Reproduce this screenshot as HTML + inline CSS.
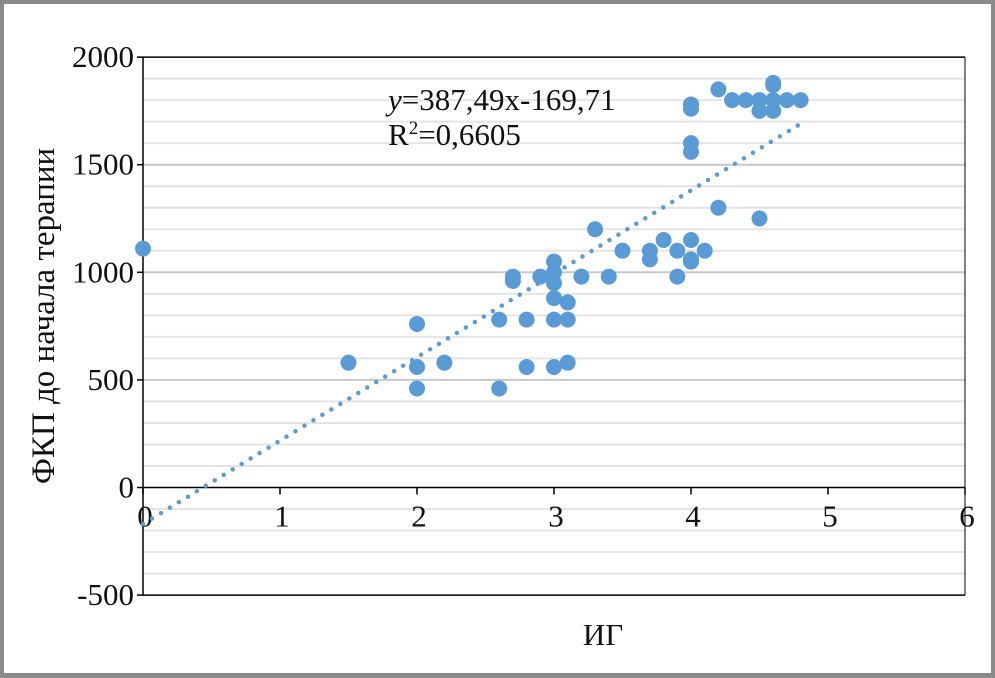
<!DOCTYPE html>
<html><head><meta charset="utf-8"><style>
body{margin:0;background:#fff}
#wrap{position:relative;width:995px;height:678px;box-sizing:border-box;border:4px solid #8a8a8a;border-bottom-width:5px;background:#fff}
svg{position:absolute;left:0;top:0}
text{font-family:"Liberation Serif",serif;fill:#111}
</style></head><body>
<div id="wrap"></div>
<svg id="chart" width="995" height="678"></svg>
<script>
const xs=[0,1.5,2,2,2,2.2,2.6,2.6,2.7,2.7,2.8,2.8,2.9,3,3,3,3,3,3,3.1,3.1,3.1,3.2,3.3,3.4,3.5,3.7,3.7,3.8,3.9,3.9,4,4,4,4,4,4,4,4.1,4.2,4.2,4.3,4.4,4.5,4.5,4.5,4.6,4.6,4.6,4.6,4.7,4.8];
const ys=[1110,580,760,560,460,580,780,460,980,960,780,560,980,1050,1000,950,880,780,560,860,780,580,980,1200,980,1100,1100,1060,1150,1100,980,1150,1060,1050,1780,1760,1600,1560,1100,1300,1850,1800,1800,1800,1750,1250,1750,1800,1870,1880,1800,1800];
const yTicks=[-500,0,500,1000,1500,2000];
const xTicks=[0,1,2,3,4,5,6];
const slope=387.49, intercept=-169.71, trendEnd=4.8;
const NS='http://www.w3.org/2000/svg';
const svg=document.getElementById('chart');
const X=v=>143+v*137, Y=v=>487.5-v*0.2152;
function mk(t,a){const e=document.createElementNS(NS,t);for(const k in a)e.setAttribute(k,a[k]);svg.appendChild(e);return e;}
for(let v=-400;v<2000;v+=100){if(v%500===0)continue;
const g=mk('line',{x1:143,x2:965,y1:Y(v),y2:Y(v),stroke:'#e4e4e4','stroke-width':2});

}
yTicks.forEach(v=>{
if(v!==0&&v!==2000&&v!==-500){const g=mk('line',{x1:143,x2:965,y1:Y(v),y2:Y(v),stroke:'#c8c8c8','stroke-width':2});

}
mk('line',{x1:137,x2:143,y1:Y(v),y2:Y(v),stroke:'#000','stroke-width':1.5});
const t=mk('text',{x:134,y:Y(v)+10,'text-anchor':'end','font-size':31});t.textContent=v;


});
mk('line',{x1:143,x2:965,y1:Y(2000),y2:Y(2000),stroke:'#000','stroke-width':1.5});
mk('line',{x1:143,x2:965,y1:Y(-500),y2:Y(-500),stroke:'#000','stroke-width':1.5});
mk('line',{x1:143,x2:965,y1:Y(0),y2:Y(0),stroke:'#000','stroke-width':1.5});
mk('line',{x1:143,x2:143,y1:Y(2000),y2:Y(-500),stroke:'#000','stroke-width':1.5});
mk('line',{x1:965,x2:965,y1:Y(2000),y2:Y(-500),stroke:'#000','stroke-width':1});
xTicks.forEach(v=>{
mk('line',{x1:X(v),x2:X(v),y1:Y(0),y2:Y(0)+7,stroke:'#000','stroke-width':1.5});
const t=mk('text',{x:X(v)+2,y:Y(0)+39,'text-anchor':'middle','font-size':31});t.textContent=v;


});
const tl=mk('line',{x1:X(0),y1:Y(intercept),x2:X(trendEnd),y2:Y(slope*trendEnd+intercept),stroke:'#5b9bd5','stroke-width':4.5,'stroke-linecap':'round','stroke-dasharray':'0 10.5'});


xs.forEach((x,i)=>{const c=mk('circle',{cx:X(x),cy:Y(ys[i]),r:8,fill:'#5b9bd5'});

});
let t=mk('text',{x:388,y:110,'font-size':31});t.innerHTML='<tspan font-style="italic">y</tspan>=387,49x-169,71';


t=mk('text',{x:388,y:145,'font-size':31});t.innerHTML='R<tspan font-size="19" dy="-11">2</tspan><tspan dy="11">=0,6605</tspan>';


t=mk('text',{x:603,y:645,'text-anchor':'middle','font-size':31});t.textContent='ИГ';


t=mk('text',{x:0,y:0,'text-anchor':'middle','font-size':33,transform:'translate(54,316) rotate(-90)'});t.textContent='ФКП до начала терапии';


</script>
</body></html>
